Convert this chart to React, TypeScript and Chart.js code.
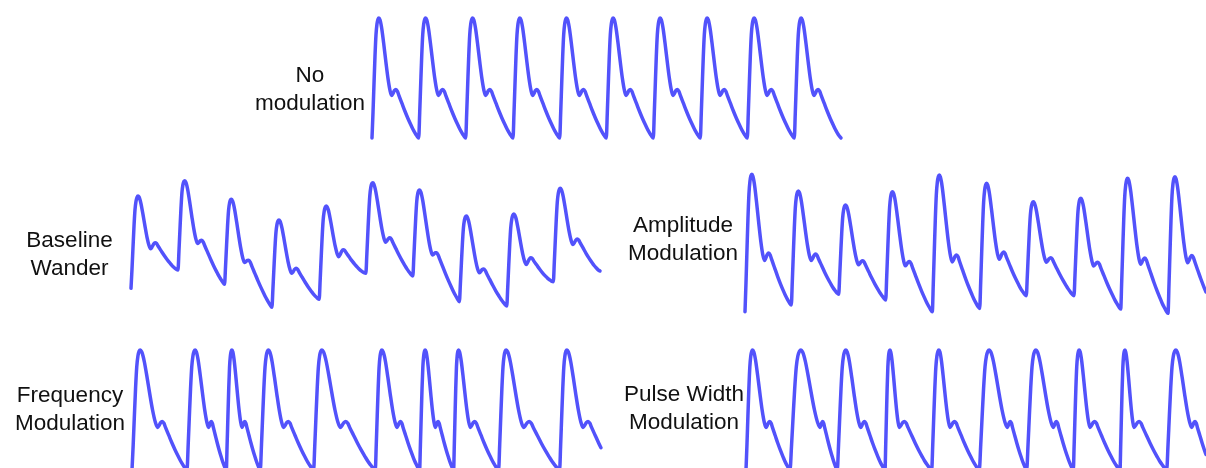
import React, { useEffect, useRef } from "react";
import { Chart, registerables } from "chart.js";

Chart.register(...registerables);

// ---------- template pulse ----------
// time in template units (one beat = 46.9), level 0 = trough, 1 = systolic peak
const PULSE_T = [0, 1, 2, 3, 4, 5, 6, 7, 8, 9, 10, 12, 14, 16, 18, 19.7, 21, 22.5, 24, 25.5, 27, 30, 33, 36, 39, 41, 43, 45, 46.9];
const PULSE_V = [0, 0.21, 0.45, 0.68, 0.86, 0.95, 0.99, 1, 0.985, 0.95, 0.9, 0.77, 0.63, 0.5, 0.4, 0.355, 0.37, 0.395, 0.405, 0.39, 0.355, 0.29, 0.225, 0.165, 0.11, 0.075, 0.045, 0.018, 0];
// onset, systolic peak, dicrotic notch, end of beat (template units)
const PULSE_ANCHORS = [0, 7, 19.7, 46.9];

// ---------- No modulation ----------
const noModOnsets = [0, 46.7, 93.7, 141, 187.7, 234.3, 281.3, 328.3, 375.3, 422.3, 469];
const noModTroughs = [0, 0, 0, 0, 0, 0, 0, 0, 0, 0, 0];
const noModPeaks = [120, 120, 120, 120, 120, 120, 120, 120, 120, 120];

// ---------- Baseline wander ----------
const bwOnsets = [0, 47, 93.6, 141, 188.3, 235, 282, 328.6, 376, 422.6, 469.3];
const bwTroughs = [31.7, 50, 35.7, 12.7, 20.7, 46.7, 44, 18.3, 14, 38.3, 49];
const bwPeaks = [124, 139.3, 120.7, 100, 114, 137.3, 130, 104, 106, 131.7];

// ---------- Amplitude modulation ----------
const amOnsets = [0, 46.3, 93.7, 140.7, 187.3, 234.7, 281.3, 329, 375.7, 423, 469.7];
const amTroughs = [8.3, 15, 25.7, 20, 8.3, 11.5, 24.3, 24.3, 11, 6.7, 12];
const amPeaks = [145.7, 129, 115, 128.3, 145, 136.7, 118.3, 121.7, 141.7, 143.3];
const amEnd = 461;

// ---------- Frequency modulation ----------
const fmOnsets = [0, 55, 94.3, 128.3, 181.6, 243.3, 287.6, 321.6, 366.6, 427.6, 483];
const fmPeakTimes = [8.3, 63.3, 100, 136.6, 190, 250, 293.3, 326.6, 374.3, 435];
const fmNotchTimes = [25.6, 76.6, 110, 151.6, 208.3, 265, 303.3, 338.3, 391.6, 451];
const fmTroughs = [0, 0, 0, 0, 0, 0, 0, 0, 0, 0, 0];
const fmPeaks = [120, 120, 120, 120, 120, 120, 120, 120, 120, 120];
const fmEnd = 469;

// ---------- Pulse width modulation ----------
const pwmOnsets = [0, 44, 91.3, 139, 185.7, 233.3, 280.7, 327.3, 374, 420.7, 467];
const pwmPeakTimes = [6.7, 55, 100, 144, 193, 243.3, 290, 333.3, 379, 430];
const pwmNotchTimes = [20, 74, 114.7, 153.3, 204, 261.3, 307.3, 344, 388, 445.7];
const pwmTroughs = [0, 0, 0, 0, 0, 0, 0, 0, 0, 0, 0];
const pwmPeaks = [120, 120, 120, 120, 120, 120, 120, 120, 120, 120];
const pwmEnd = 460;

const LINE_COLOR = "#5252FB";
const PAD = 6;

type Pt = { x: number; y: number };

function warp(t: number, a: number[]): number {
  for (let i = 0; i < PULSE_ANCHORS.length - 1; i++) {
    const t0 = PULSE_ANCHORS[i];
    const t1 = PULSE_ANCHORS[i + 1];
    if (t <= t1 || i === PULSE_ANCHORS.length - 2) {
      const f = (t - t0) / (t1 - t0);
      return a[i] + (a[i + 1] - a[i]) * f;
    }
  }
  return a[a.length - 1];
}

function buildTrace(
  onsets: number[],
  troughs: number[],
  peaks: number[],
  peakTimes?: number[],
  notchTimes?: number[],
  endTime?: number
): Pt[] {
  const pts: Pt[] = [];
  const T = PULSE_ANCHORS[3];
  for (let k = 0; k < peaks.length; k++) {
    const s = onsets[k];
    const e = onsets[k + 1];
    const d = e - s;
    const pT = peakTimes ? peakTimes[k] : s + (PULSE_ANCHORS[1] * d) / T;
    const nT = notchTimes ? notchTimes[k] : s + (PULSE_ANCHORS[2] * d) / T;
    const anchors = [s, pT, nT, e];
    const b0 = troughs[k];
    const b1 = troughs[k + 1];
    const basePeak = b0 + ((b1 - b0) * (pT - s)) / d;
    const amp = peaks[k] - basePeak;
    for (let i = k === 0 ? 0 : 1; i < PULSE_T.length; i++) {
      const x = warp(PULSE_T[i], anchors);
      const base = b0 + ((b1 - b0) * (x - s)) / d;
      pts.push({ x, y: base + PULSE_V[i] * amp });
    }
  }
  if (endTime === undefined) return pts;
  const out: Pt[] = [];
  for (let i = 0; i < pts.length; i++) {
    if (pts[i].x <= endTime) out.push(pts[i]);
    else {
      const p = pts[i - 1];
      const q = pts[i];
      const f = (endTime - p.x) / (q.x - p.x);
      out.push({ x: endTime, y: p.y + (q.y - p.y) * f });
      break;
    }
  }
  return out;
}

type TraceProps = {
  left: number;
  top: number;
  width: number;
  height: number;
  xMax: number;
  yMin: number;
  yMax: number;
  points: Pt[];
};

function Trace({ left, top, width, height, xMax, yMin, yMax, points }: TraceProps) {
  const ref = useRef<HTMLCanvasElement>(null);
  useEffect(() => {
    const chart = new Chart(ref.current as HTMLCanvasElement, {
      type: "line",
      data: {
        datasets: [
          {
            data: points,
            borderColor: LINE_COLOR,
            borderWidth: 3.5,
            pointRadius: 0,
            fill: false,
            cubicInterpolationMode: "monotone",
            capBezierPoints: false,
            borderCapStyle: "round",
            borderJoinStyle: "round",
            clip: PAD,
          } as any,
        ],
      },
      options: {
        animation: false,
        responsive: false,
        maintainAspectRatio: false,
        events: [],
        layout: { padding: PAD },
        plugins: { legend: { display: false }, tooltip: { enabled: false } },
        scales: {
          x: { type: "linear", display: false, min: 0, max: xMax },
          y: { type: "linear", display: false, min: yMin, max: yMax },
        },
      },
    });
    return () => chart.destroy();
  }, []);
  return (
    <canvas
      ref={ref}
      width={width + 2 * PAD}
      height={height + 2 * PAD}
      style={{ position: "absolute", left: left - PAD, top: top - PAD, width: width + 2 * PAD, height: height + 2 * PAD }}
    />
  );
}

function Label({ lines, cx, top }: { lines: string[]; cx: number; top: number }) {
  return (
    <div
      style={{
        position: "absolute",
        left: cx - 100,
        top,
        width: 200,
        textAlign: "center",
        fontFamily: '"Liberation Sans", Arial, Helvetica, sans-serif',
        fontSize: 22.5,
        lineHeight: "28px",
        color: "#111",
        whiteSpace: "nowrap",
      }}
    >
      {lines.map((l) => (
        <div key={l}>{l}</div>
      ))}
    </div>
  );
}

export default function App() {
  const noMod = buildTrace(noModOnsets, noModTroughs, noModPeaks);
  const bw = buildTrace(bwOnsets, bwTroughs, bwPeaks);
  const am = buildTrace(amOnsets, amTroughs, amPeaks, undefined, undefined, amEnd);
  const fm = buildTrace(fmOnsets, fmTroughs, fmPeaks, fmPeakTimes, fmNotchTimes, fmEnd);
  const pwm = buildTrace(pwmOnsets, pwmTroughs, pwmPeaks, pwmPeakTimes, pwmNotchTimes, pwmEnd);
  return (
    <div
      style={{
        position: "fixed",
        left: 0,
        top: 0,
        width: 1206,
        height: 468,
        overflow: "hidden",
        background: "#fff",
      }}
    >
      <Trace left={372} top={18} width={469} height={120} xMax={469} yMin={0} yMax={120} points={noMod} />
      <Trace left={131} top={180} width={469} height={140} xMax={469.3} yMin={0} yMax={140} points={bw} />
      <Trace left={745} top={170} width={461} height={150} xMax={461} yMin={0} yMax={150} points={am} />
      <Trace left={132} top={350} width={469} height={120} xMax={469} yMin={0} yMax={120} points={fm} />
      <Trace left={746} top={350} width={460} height={120} xMax={460} yMin={0} yMax={120} points={pwm} />
      <Label lines={["No", "modulation"]} cx={310} top={61} />
      <Label lines={["Baseline", "Wander"]} cx={69.5} top={226} />
      <Label lines={["Amplitude", "Modulation"]} cx={683} top={211} />
      <Label lines={["Frequency", "Modulation"]} cx={70} top={381} />
      <Label lines={["Pulse Width", "Modulation"]} cx={684} top={380} />
    </div>
  );
}
